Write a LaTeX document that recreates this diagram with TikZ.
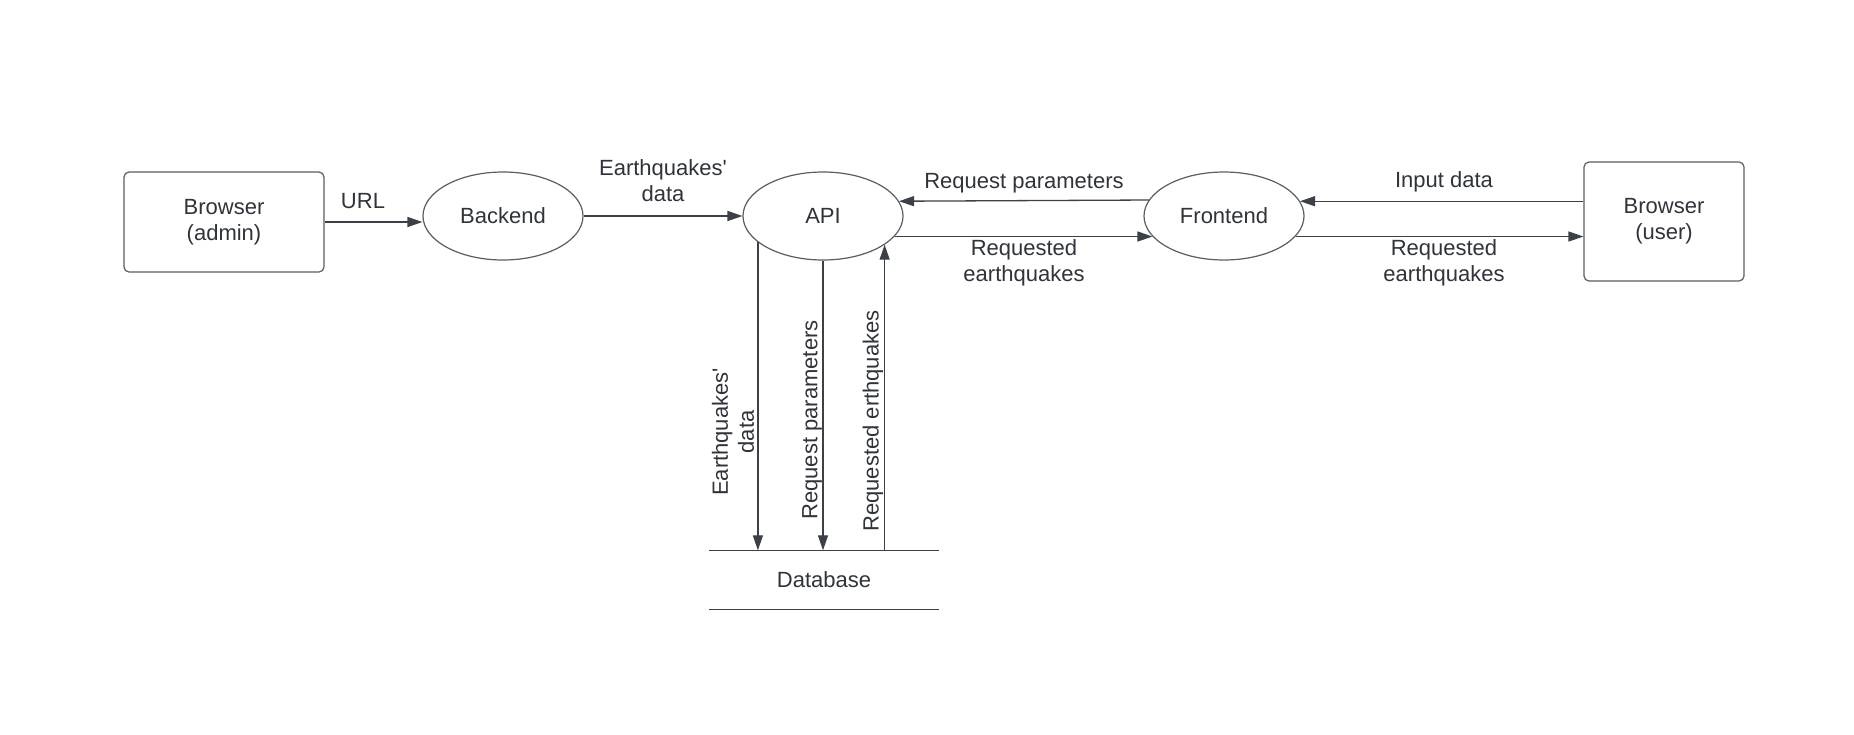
\documentclass[tikz,border=0pt]{standalone}
\usepackage{fontspec}
\setmainfont{Liberation Sans}
\usetikzlibrary{arrows.meta,shapes.geometric}
\definecolor{ink}{HTML}{30343A}
\definecolor{edge}{HTML}{3C4048}
\definecolor{outline}{HTML}{5A5D62}
\begin{document}
\begin{tikzpicture}[x=1pt,y=-1pt, font=\fontsize{22}{26}\selectfont, text=ink,
 proc/.style={ellipse, draw=outline, line width=1.2pt, minimum width=160pt, minimum height=88pt, inner sep=0pt},
 ext/.style={rectangle, rounded corners=5pt, draw=outline, line width=1.2pt, inner sep=0pt, align=center},
 arr/.style={draw=edge, line width=1.3pt, -{Triangle[length=15pt,width=10pt]}},
 lbl/.style={align=center, inner sep=0pt},
 dbline/.style={draw=edge, line width=1.3pt}]
\useasboundingbox[fill=white] (0,0) rectangle (1854,734);
\node[ext, minimum width=200pt, minimum height=100pt] (admin) at (224,222) {Browser\\(admin)};
\node[proc] (back) at (503,216) {Backend};
\node[proc] (api) at (823,216) {API};
\node[proc] (front) at (1224,216) {Frontend};
\node[ext, minimum width=160pt, minimum height=119pt] (user) at (1664,221.5) {Browser\\(user)};
\node[lbl, minimum width=230pt, minimum height=59pt] (db) at (824,580) {Database};
\draw[dbline] (db.north west) -- (db.north east);
\draw[dbline] (db.south west) -- (db.south east);
% horizontal connectors
\draw[arr] (admin.east) -- (admin.east -| back.west);
\draw[arr] (back) -- (api);
\draw[arr] (front.168.7) -- (api.11.3);
\draw[arr] (api.-16.6) -- (front.196.6);
\draw[arr] (front.11.3 -| user.west) -- (front.11.3);
\draw[arr] (front.-16.6) -- (front.-16.6 -| user.west);
% vertical connectors
\draw[arr] (api.202.4) -- (api.202.4 |- db.north);
\draw[arr] (api.south) -- (api.south |- db.north);
\draw[arr] (api.-25 |- db.north) -- (api.-25);
% labels
\node[lbl] (lurl) at (363,201) {URL};
\node[lbl] (leqd) at (663,181) {Earthquakes\textquotesingle\\data};
\node[lbl] (lrp) at (1024,183) {Request parameters};
\node[lbl] (lreq) at (1024,263) {Requested\\earthquakes};
\node[lbl] (lin) at (1444,182) {Input data};
\node[lbl] (lreq2) at (1444,263) {Requested\\earthquakes};
\node[lbl, rotate=90] (vleqd) at (733,432) {Earthquakes\textquotesingle\\data};
\node[lbl, rotate=90] (vlrp) at (812,420) {Request parameters};
\node[lbl, rotate=90] (vlreq) at (873,421) {Requested erthquakes};
\end{tikzpicture}
\end{document}
